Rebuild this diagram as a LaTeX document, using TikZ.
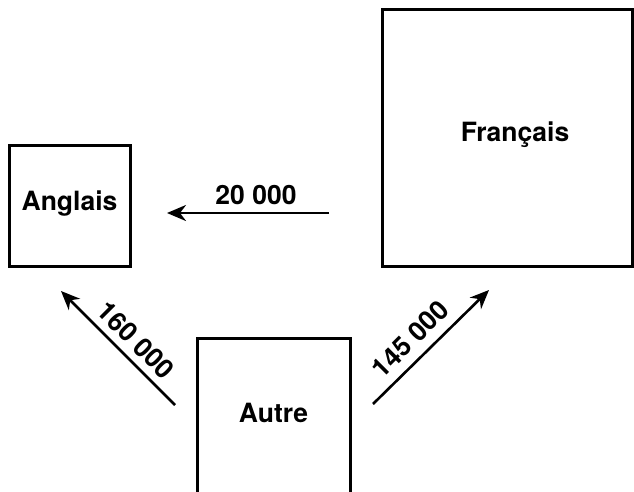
\documentclass[tikz,border=0pt]{standalone}
\usepackage{fontspec}
\setmainfont{TeX Gyre Heros}
\usetikzlibrary{arrows.meta}
\tikzset{
  box/.style={draw, line width=3pt, inner sep=0pt},
  lab/.style={font=\bfseries\fontsize{26.5}{30}\selectfont, inner sep=0pt},
  flow/.style={line width=2.6pt, -{Stealth[length=19pt,width=16pt,inset=6pt]}},
}
\begin{document}
\begin{tikzpicture}[x=1pt,y=-1pt]
\useasboundingbox (0,0) rectangle (634,491);
\clip (0,0) rectangle (634,491);
\node[box, minimum width=250pt, minimum height=257pt] (fr) at (507,137.5) {};
\node[lab] (frt) at (515,135) {Français};
\node[box, minimum width=121pt, minimum height=121pt] (an) at (69.5,205.5) {};
\node[lab] (ant) at (69.5,204) {Anglais};
\node[box, minimum width=153pt, minimum height=170pt] (au) at (273.5,423) {};
\node[lab] (aut) at (273.5,413) {Autre};
\coordinate (a1s) at (329,213);
\coordinate (a1e) at (167,213);
\coordinate (a2s) at (175,405);
\coordinate (a2e) at (61,291);
\coordinate (a3s) at (373,404);
\coordinate (a3e) at (489,290);
\draw[flow] (a1s) -- (a1e);
\draw[flow] (a2s) -- (a2e);
\draw[flow] (a3s) -- (a3e);
\node[lab] (l1) at (256,195) {20 000};
\node[lab, rotate=-45] (l2) at (136,340) {160 000};
\node[lab, rotate=45] (l3) at (410,339) {145 000};
\end{tikzpicture}
\end{document}
